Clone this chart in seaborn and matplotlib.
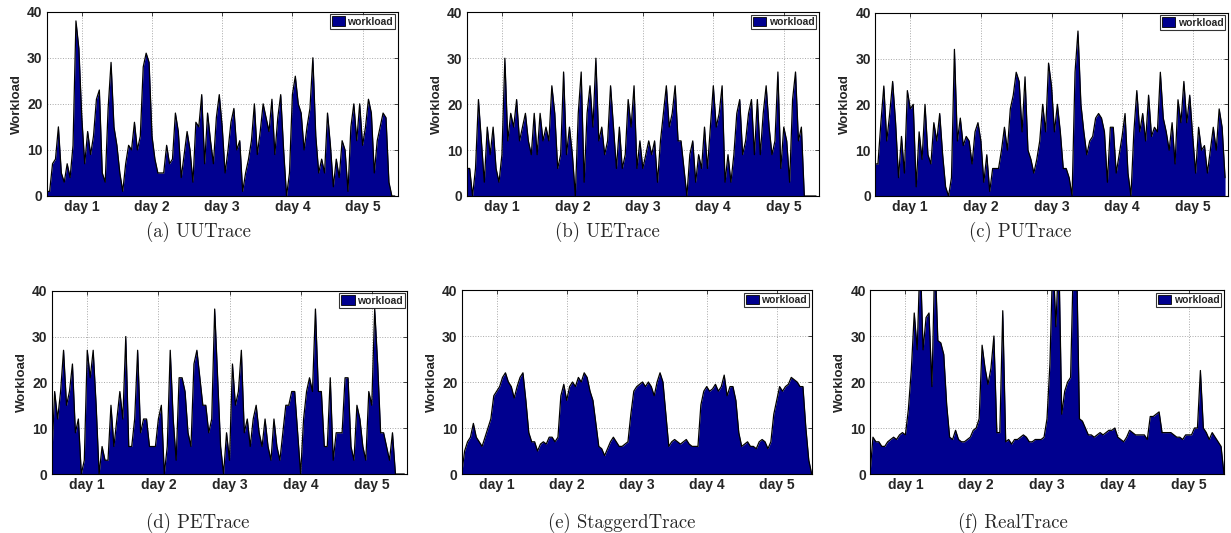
import numpy as np
import pandas as pd
import matplotlib
matplotlib.use("Agg")
import matplotlib.pyplot as plt
import seaborn as sns

# hourly workload, 5 days
uu_trace = [1, 1, 7, 8, 15, 5, 3, 7, 4, 11, 38, 32, 17, 7, 14, 9, 13, 21, 23, 5,
            3, 19, 29, 15, 11, 5, 1, 7, 11, 10, 16, 10, 13, 28, 31, 29, 13, 8, 5, 5,
            5, 11, 7, 8, 18, 14, 4, 9, 14, 10, 3, 16, 15, 22, 7, 18, 12, 7, 17, 22,
            15, 5, 10, 16, 19, 10, 12, 1, 5, 8, 12, 20, 9, 14, 20, 17, 14, 21, 9, 17,
            22, 10, 0, 5, 22, 26, 20, 18, 10, 15, 19, 30, 13, 5, 8, 5, 18, 11, 2, 8,
            4, 12, 10, 1, 15, 20, 12, 20, 11, 15, 21, 18, 5, 12, 15, 18, 17, 3, 0, 0]

ue_trace = [6, 6, 0, 6, 21, 12, 3, 15, 9, 15, 6, 3, 9, 30, 12, 18, 15, 21, 12, 15,
            18, 12, 9, 18, 9, 18, 12, 15, 12, 24, 18, 6, 9, 27, 9, 15, 9, 0, 18, 27,
            3, 18, 24, 15, 30, 12, 15, 9, 12, 24, 15, 6, 15, 6, 9, 21, 15, 24, 6, 12,
            6, 9, 12, 9, 12, 3, 12, 18, 24, 15, 18, 24, 12, 12, 6, 0, 9, 12, 3, 9,
            6, 15, 6, 15, 24, 15, 18, 24, 3, 9, 3, 9, 18, 21, 9, 12, 18, 21, 9, 21,
            9, 18, 24, 15, 9, 12, 27, 6, 15, 12, 3, 21, 27, 12, 15, 0, 0, 0, 0, 0]

pu_trace = [7, 7, 16, 24, 12, 18, 25, 16, 4, 13, 5, 23, 19, 20, 2, 14, 8, 20, 9, 7,
            16, 12, 18, 9, 2, 0, 4, 32, 12, 17, 11, 13, 12, 7, 14, 16, 12, 3, 9, 1,
            6, 6, 6, 10, 15, 10, 19, 22, 27, 25, 14, 26, 10, 8, 5, 8, 12, 20, 14, 29,
            24, 14, 20, 14, 6, 6, 4, 0, 27, 36, 20, 14, 9, 12, 13, 17, 18, 17, 14, 3,
            15, 15, 5, 9, 13, 18, 5, 0, 14, 23, 14, 18, 12, 22, 13, 15, 14, 27, 17, 14,
            10, 16, 7, 21, 16, 25, 16, 22, 13, 5, 15, 10, 11, 5, 10, 15, 10, 19, 15, 4]

pe_trace = [3, 18, 12, 18, 27, 15, 18, 24, 9, 12, 0, 3, 27, 21, 27, 15, 0, 6, 3, 3,
            15, 6, 12, 18, 12, 30, 6, 6, 12, 27, 9, 12, 12, 6, 6, 6, 12, 15, 0, 6,
            27, 12, 3, 21, 21, 18, 9, 6, 24, 27, 21, 15, 15, 9, 12, 36, 21, 6, 0, 9,
            3, 24, 15, 18, 27, 9, 12, 6, 12, 15, 9, 6, 12, 6, 3, 12, 6, 3, 9, 15,
            15, 18, 18, 9, 0, 12, 18, 21, 18, 36, 18, 18, 6, 6, 21, 3, 9, 9, 9, 21,
            21, 6, 3, 15, 12, 6, 3, 18, 15, 36, 24, 9, 9, 6, 3, 9, 0, 0, 0, 0]

staggered_trace = [0, 5, 7, 8, 11, 8, 7, 6, 8, 10, 12, 17, 18, 19, 21, 22, 20, 19, 16.5, 19,
                   21, 22, 16, 9, 7, 7, 5, 6.5, 7, 6.5, 8, 8, 7, 8, 17, 19.5, 16, 19, 20, 19,
                   21, 20, 22, 21, 18, 16, 11, 6, 5.5, 4, 5.5, 7, 8, 7, 6, 6, 6.5, 7, 13, 18,
                   19, 19.5, 20, 19, 20, 19, 17, 20, 22, 20, 13, 6, 7, 7.5, 7, 6.5, 7, 7.5, 6.5, 6,
                   6, 6, 15, 18, 19, 18, 18.5, 19.5, 18, 19, 21.5, 17, 19, 19, 16, 9, 6, 6.5, 7, 6,
                   6, 5.5, 7, 7.5, 7, 5.5, 7, 13, 16, 19, 18, 19, 19.5, 21, 20.5, 20, 19, 19, 10, 3,
                   0]

real_trace = [0, 8, 7, 7, 6, 6, 7, 7.5, 8, 7.5, 8.5, 9, 8.5, 14, 22.5, 35, 27, 48, 27, 34,
              35, 19, 48, 29, 28.5, 26, 15, 8, 7.5, 9.5, 7.5, 7, 7, 7.5, 8, 9.5, 10, 12, 28, 23,
              19.5, 23, 30, 9, 9, 35.5, 7, 7.5, 6.5, 7.5, 7.5, 8, 8.5, 8, 7, 7, 7.5, 7.5, 7.5, 8,
              12, 24, 48, 32, 48, 13, 18, 20, 21, 48, 48, 12, 11.5, 10, 8.5, 8.5, 8, 8.5, 9, 8.5,
              9, 9.5, 9.5, 10, 8, 7.5, 7, 8, 9.5, 9, 8.5, 8.5, 8.5, 8.5, 7.5, 12.5, 12.5, 13, 13.5, 9,
              9, 9, 9, 8.5, 8, 8, 7.5, 8.5, 8.5, 8.5, 10, 10, 22.5, 10, 9, 7.5, 9, 8, 7, 6,
              0]

traces = [uu_trace, ue_trace, pu_trace, pe_trace, staggered_trace, real_trace]
captions = ['(a) UUTrace', '(b) UETrace', '(c) PUTrace',
            '(d) PETrace', '(e) StaggerdTrace', '(f) RealTrace']
day_labels = ['day 1', 'day 2', 'day 3', 'day 4', 'day 5']
y_ticks = [0, 10, 20, 30, 40]

FILL = '#00008f'
W, H = 1231, 533

# axes boxes in pixels: left, top, right, bottom
boxes = [(46.7, 11.7, 397.7, 196), (466.7, 12.3, 819, 196), (875, 12.7, 1228, 196),
         (51.7, 290.7, 407.3, 474), (461.7, 290, 811.7, 474), (870, 290, 1224, 474)]
caption_xy = [(198, 232), (607, 232), (1020, 232),
              (198, 523), (622, 523), (1013, 523)]

sns.set_style('white')
plt.rcParams['font.family'] = ['Liberation Sans', 'DejaVu Sans']
plt.rcParams['font.weight'] = 'bold'

fig = plt.figure(figsize=(W / 100, H / 100), dpi=100)


def draw_trace(ax, values):
    """Area plot of one trace with a black outline."""
    df = pd.DataFrame({'day': np.arange(len(values)) / 24.0, 'workload': values})
    area = ax.fill_between(df['day'], df['workload'], color=FILL, lw=0, zorder=2,
                           label='workload')
    sns.lineplot(data=df, x='day', y='workload', ax=ax, color='black', lw=0.9, zorder=3)

    ax.set_xlim(0, 5)
    ax.set_ylim(0, 40)
    ax.set_xticks(np.arange(5) + 0.5)
    ax.set_xticklabels(day_labels)
    ax.set_yticks(y_ticks)
    ax.set_xlabel('')
    ax.set_ylabel('Workload', fontsize=9.5, fontweight='bold', labelpad=3)
    ax.tick_params(direction='in', length=3, width=0.6, top=True, right=True,
                   labelsize=10, pad=3)
    ax.set_axisbelow(True)
    ax.grid(True, ls=':', color='#a8a8a8', lw=0.7)
    for sp in ax.spines.values():
        sp.set_color('black')
        sp.set_linewidth(0.8)

    leg = ax.legend(handles=[area], loc='upper right', fontsize=7.5, frameon=True,
                    fancybox=False, handlelength=1.3, handleheight=1.0,
                    handletextpad=0.2, borderpad=0.2, borderaxespad=0.25)
    leg.get_frame().set_edgecolor('black')
    leg.get_frame().set_linewidth(0.8)
    leg.legend_handles[0].set_edgecolor('black')
    leg.legend_handles[0].set_linewidth(0.6)


for values, box, cap, (cx, cy) in zip(traces, boxes, captions, caption_xy):
    l, t, r, b = box
    ax = fig.add_axes([l / W, 1 - b / H, (r - l) / W, (b - t) / H])
    draw_trace(ax, values)
    fig.text(cx / W, 1 - cy / H, cap, family='cmr10', fontweight='normal',
             fontsize=13.5, ha='center', va='center')

fig.savefig('out.png', dpi=100)
